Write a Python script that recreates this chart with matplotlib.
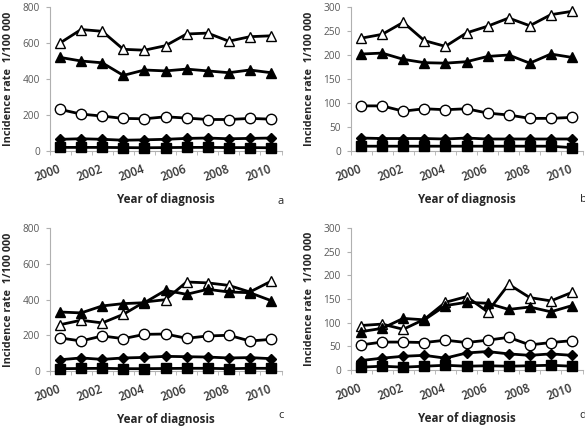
import matplotlib
matplotlib.use("Agg")
import matplotlib.pyplot as plt
import numpy as np

years = list(range(2000, 2011))
tick_years = ["2000", "2002", "2004", "2006", "2008", "2010"]

# Panel a
a_open_tri = [600, 675, 665, 565, 560, 585, 650, 655, 610, 635, 640]
a_fill_tri = [520, 500, 490, 420, 450, 445, 455, 445, 435, 450, 435]
a_circle = [231, 205, 194, 181, 179, 190, 183, 175, 175, 181, 177]
a_diamond = [65, 68, 65, 60, 62, 65, 70, 72, 68, 70, 72]
a_square = [20, 20, 20, 19, 18, 19, 20, 20, 19, 19, 18]

# Panel b
b_open_tri = [235, 243, 268, 230, 218, 246, 260, 277, 261, 284, 291]
b_fill_tri = [202, 204, 191, 184, 183, 186, 197, 200, 183, 202, 195]
b_circle = [94, 94, 83, 88, 86, 88, 79, 75, 68, 68, 70]
b_diamond = [27, 26, 26, 26, 25, 27, 25, 25, 25, 25, 25]
b_square = [10, 10, 10, 10, 10, 10, 10, 10, 10, 10, 7]

# Panel c
c_open_tri = [259, 284, 269, 317, 386, 399, 498, 493, 479, 442, 502]
c_fill_tri = [330, 325, 364, 377, 382, 451, 429, 457, 442, 438, 394]
c_circle = [185, 168, 196, 181, 205, 207, 183, 196, 200, 168, 177]
c_diamond = [63, 73, 65, 73, 76, 82, 80, 78, 73, 75, 69]
c_square = [13, 14, 15, 13, 13, 14, 15, 15, 13, 15, 15]

# Panel d
d_open_tri = [94, 97, 86, 107, 143, 155, 123, 181, 153, 146, 164]
d_fill_tri = [81, 88, 109, 106, 136, 143, 141, 128, 133, 123, 136]
d_circle = [53, 59, 59, 58, 63, 58, 63, 69, 53, 58, 62]
d_diamond = [20, 25, 29, 31, 25, 36, 39, 34, 31, 34, 31]
d_square = [6, 8, 6, 8, 10, 8, 9, 8, 9, 10, 8]

panels = [
    ("a", [a_open_tri, a_fill_tri, a_circle, a_diamond, a_square], 800, 200),
    ("b", [b_open_tri, b_fill_tri, b_circle, b_diamond, b_square], 300, 50),
    ("c", [c_open_tri, c_fill_tri, c_circle, c_diamond, c_square], 800, 200),
    ("d", [d_open_tri, d_fill_tri, d_circle, d_diamond, d_square], 300, 50),
]

styles = [
    dict(marker="^", mfc="white", ms=7.5),
    dict(marker="^", mfc="black", ms=6.5),
    dict(marker="o", mfc="white", ms=7.5),
    dict(marker="D", mfc="black", ms=5.5),
    dict(marker="s", mfc="black", ms=6.5),
]

W, H = 585, 429
plt.rcParams["font.family"] = ["Open Sans", "DejaVu Sans"]
fig = plt.figure(figsize=(W / 100, H / 100), dpi=100)

# pixel boxes: left, top, right, bottom
boxes = {
    "a": (49.5, 7, 281.5, 151),
    "b": (350.5, 7, 582.5, 151),
    "c": (49.5, 228, 281.5, 371),
    "d": (350.5, 228, 582.5, 370),
}
letter_pos = {"a": (281, 201), "b": (583, 200), "c": (281, 416), "d": (583, 415)}

tick_col = "#595959"
xtick_col = "#333333"
title_col = "#262626"
ax_col = "#b0b0b0"
x = np.arange(len(years))

for name, series, ymax, ystep in panels:
    l, t, r, b = boxes[name]
    ax = fig.add_axes([l / W, 1 - b / H, (r - l) / W, (b - t) / H])
    for s, st in zip(series, styles):
        ax.plot(x, s, color="black", lw=2.0, marker=st["marker"], mfc=st["mfc"],
                mec="black", mew=1.0, ms=st["ms"], clip_on=False, zorder=3)
    ax.set_xlim(-0.5, 10.5)
    ax.set_ylim(0, ymax)
    ax.set_yticks(np.arange(0, ymax + 1, ystep))
    ax.set_xticks(x[::2])
    ax.set_xticklabels(tick_years, rotation=20, ha="right", va="center",
                       rotation_mode="anchor", fontsize=8.3, color=xtick_col,
                       fontweight="semibold")
    ax.set_xticks(np.arange(-0.5, 11, 1), minor=True)
    ax.tick_params(axis="x", which="major", length=0, pad=13)
    ax.tick_params(axis="x", which="minor", length=3, color=ax_col, direction="out")
    ax.tick_params(axis="y", length=3, color=ax_col, labelsize=7.3,
                   labelcolor=tick_col, pad=4)
    for sp in ["top", "right"]:
        ax.spines[sp].set_visible(False)
    for sp in ["left", "bottom"]:
        ax.spines[sp].set_color(ax_col)
        ax.spines[sp].set_linewidth(0.8)
    ax.set_xlabel("Year of diagnosis", fontsize=8.4, fontweight="bold",
                  color=title_col, labelpad=6)
    ax.set_ylabel("Incidence rate  1/100 000", fontsize=7.8, fontweight="bold",
                  color=title_col, labelpad=6)
    lx, ly = letter_pos[name]
    fig.text(lx / W, 1 - ly / H, name, fontsize=8, color=title_col,
             ha="center", va="center")

fig.savefig("out.png", dpi=100)
